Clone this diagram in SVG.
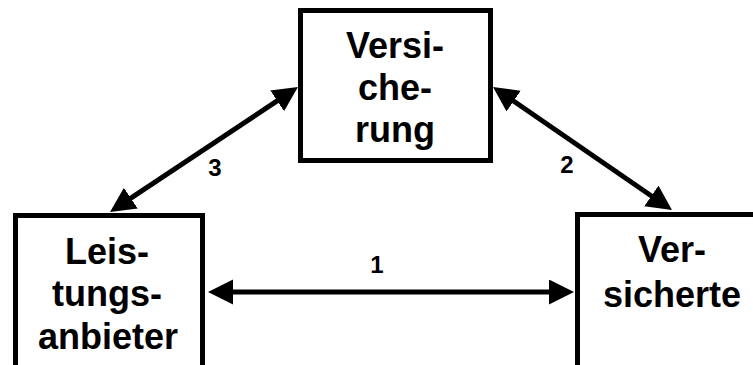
<svg xmlns="http://www.w3.org/2000/svg" width="753" height="365" viewBox="0 0 753 365">
<style>
.box{fill:#fff;stroke:#000;stroke-width:5}
.t{font-family:"Liberation Sans",Arial,sans-serif;font-weight:bold;font-size:36px;text-anchor:middle;fill:#000}
.n{font-family:"Liberation Sans",Arial,sans-serif;font-weight:bold;font-size:24px;text-anchor:middle;fill:#000}
.c{fill:none;stroke:#000;stroke-width:5;marker-start:url(#ah);marker-end:url(#ah)}
</style>
<defs>
<marker id="ah" markerUnits="userSpaceOnUse" markerWidth="26" markerHeight="26" refX="5" refY="12.5" orient="auto-start-reverse" viewBox="0 0 26 26">
<path d="M0,0 L25,12.5 L0,25 z" fill="#000"/>
</marker>
</defs>
<rect width="753" height="365" fill="#fff"/>
<g id="versicherung">
<rect class="box" x="300.5" y="10.5" width="190" height="150"/>
<text class="t" x="395" y="58">Versi-</text>
<text class="t" x="395" y="100">che-</text>
<text class="t" x="395" y="142">rung</text>
</g>
<g id="leistungsanbieter">
<rect class="box" x="15.5" y="215.5" width="187" height="165"/>
<text class="t" x="107" y="264">Leis-</text>
<text class="t" x="107" y="306">tungs-</text>
<text class="t" x="108" y="349">anbieter</text>
</g>
<g id="versicherte">
<rect class="box" x="577.5" y="214.5" width="200" height="165"/>
<text class="t" x="672" y="262">Ver-</text>
<text class="t" x="672" y="307">sicherte</text>
</g>
<g id="connectors">
<path class="c" d="M228,292 L554,292"/>
<path class="c" d="M126.7,200.9 L281.3,98.1"/>
<path class="c" d="M509.5,98.3 L655.5,198.7"/>
<text class="n" x="377" y="273">1</text>
<text class="n" x="567" y="173">2</text>
<text class="n" x="215" y="176">3</text>
</g>
</svg>
